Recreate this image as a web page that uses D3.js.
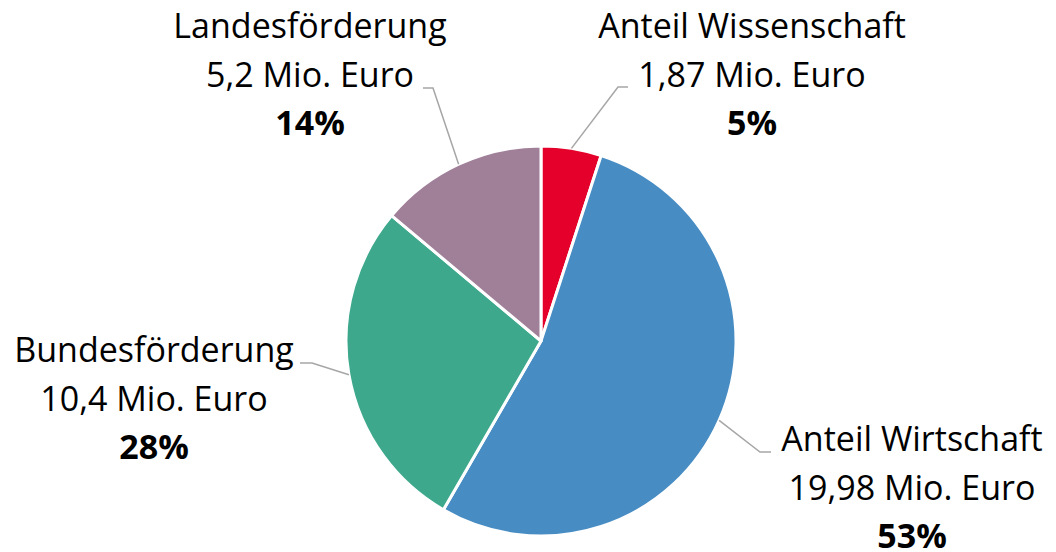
<!DOCTYPE html>
<html>
<head>
<meta charset="utf-8">
<script src="https://cdn.jsdelivr.net/npm/d3@7"></script>
<style>
  body { margin: 0; background: #fff; }
  svg text { font-family: "Open Sans", "Liberation Sans", Arial, sans-serif; fill: #000; }
</style>
</head>
<body>
<div id="chart"></div>
<script>
// chart data
var names = ["Anteil Wissenschaft", "Anteil Wirtschaft", "Bundesförderung", "Landesförderung"]
var values = [1.87, 19.98, 10.4, 5.2]
var valueLabels = ["1,87 Mio. Euro", "19,98 Mio. Euro", "10,4 Mio. Euro", "5,2 Mio. Euro"]
var percentLabels = ["5%", "53%", "28%", "14%"]
var colors = ["#E4002B", "#478CC3", "#3DA88C", "#A07F98"]

// label layout (text centre, first baseline, leader elbow)
var labelX = [752, 912, 154, 310]
var labelY = [38, 451, 362, 38]
var elbow = [[618, 87, 628], [760, 452, 771], [312, 363, 300], [433, 88, 423]]

var width = 1056, height = 552
var cx = 541, cy = 341, radius = 195
var lineGap = 48.5
var fontSize = 34

var svg = d3.select("#chart").append("svg")
  .attr("width", width)
  .attr("height", height)

var pie = d3.pie().sort(null).value(d => d)
var arcs = pie(values)

var arc = d3.arc().innerRadius(0).outerRadius(radius)

var g = svg.append("g").attr("transform", `translate(${cx},${cy})`)

g.selectAll("path")
  .data(arcs)
  .join("path")
  .attr("d", arc)
  .attr("fill", (d, i) => colors[i])
  .attr("stroke", "#fff")
  .attr("stroke-width", 3)
  .attr("stroke-linejoin", "round")

// leader lines
svg.append("g")
  .selectAll("polyline")
  .data(arcs)
  .join("polyline")
  .attr("points", function (d, i) {
    var a = (d.startAngle + d.endAngle) / 2
    var x0 = cx + radius * Math.sin(a)
    var y0 = cy - radius * Math.cos(a)
    var e = elbow[i]
    return [[x0, y0], [e[0], e[1]], [e[2], e[1]]].map(p => p.join(",")).join(" ")
  })
  .attr("fill", "none")
  .attr("stroke", "#A6A6A6")
  .attr("stroke-width", 1.5)

// labels
var lab = svg.append("g")
  .selectAll("g")
  .data(arcs)
  .join("g")
  .attr("transform", (d, i) => `translate(${labelX[i]},${labelY[i]})`)

lab.append("text")
  .attr("text-anchor", "middle")
  .attr("font-size", fontSize)
  .text((d, i) => names[i])

lab.append("text")
  .attr("text-anchor", "middle")
  .attr("font-size", fontSize)
  .attr("y", lineGap)
  .text((d, i) => valueLabels[i])

lab.append("text")
  .attr("text-anchor", "middle")
  .attr("font-size", fontSize)
  .attr("font-weight", "bold")
  .attr("y", lineGap * 2)
  .text((d, i) => percentLabels[i])
</script>
</body>
</html>
